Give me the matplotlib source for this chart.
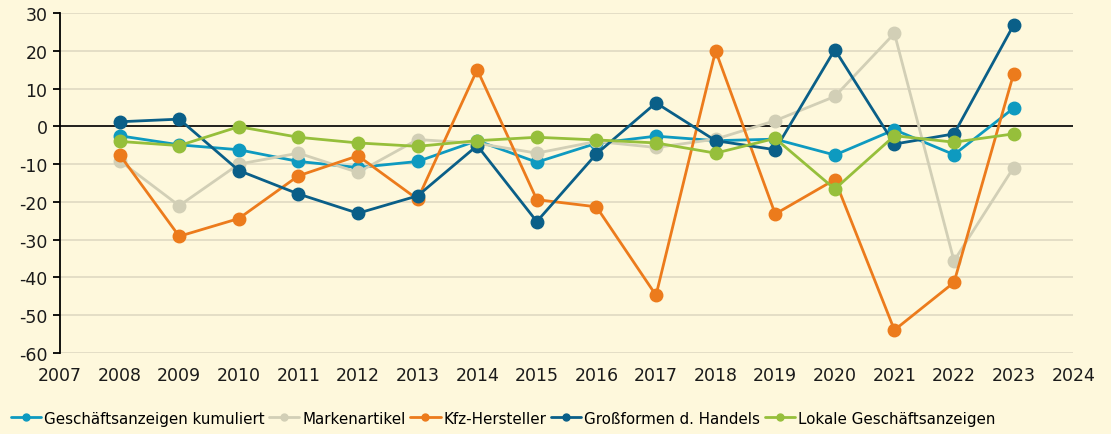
import matplotlib
matplotlib.use("Agg")
import matplotlib.pyplot as plt

years = list(range(2008, 2024))

kumuliert = [-2.5, -4.9, -6.2, -9.3, -10.9, -9.3, -3.8, -9.5, -4.5, -2.6, -3.8, -3.4, -7.6, -0.9, -7.5, 4.8]
marken = [-9.1, -21.0, -10.0, -7.1, -12.2, -3.5, -4.5, -7.1, -4.0, -5.6, -3.4, 1.5, 7.9, 24.6, -35.6, -10.9]
kfz = [-7.5, -29.1, -24.4, -13.1, -7.8, -19.3, 15.0, -19.4, -21.3, -44.7, 20.0, -23.2, -14.1, -53.9, -41.3, 13.9]
grossformen = [1.2, 1.9, -11.7, -17.9, -23.0, -18.4, -5.1, -25.2, -7.3, 6.2, -3.8, -6.2, 20.3, -4.7, -2.0, 26.8]
lokale = [-4.0, -5.1, -0.1, -2.9, -4.4, -5.3, -3.8, -2.9, -3.6, -4.4, -7.1, -3.2, -16.6, -2.5, -4.2, -2.0]

series = [
    ("Geschäftsanzeigen kumuliert", kumuliert, "#0e9ac0"),
    ("Markenartikel", marken, "#d2cfb6"),
    ("Kfz-Hersteller", kfz, "#ec7b1c"),
    ("Großformen d. Handels", grossformen, "#0a5f88"),
    ("Lokale Geschäftsanzeigen", lokale, "#96bf3b"),
]

bg = "#fef8dc"
plt.rcParams["axes.unicode_minus"] = False
plt.rcParams["font.family"] = ["DejaVu Sans"]

fig = plt.figure(figsize=(11.11, 4.35), dpi=100, facecolor=bg)
ax = fig.add_axes([0.054, 0.186, 0.912, 0.782])
ax.set_facecolor(bg)

for label, vals, col in series:
    ax.plot(years, vals, color=col, lw=2.0, marker="o", ms=9, label=label,
            solid_capstyle="round")

ax.axhline(0, color="black", lw=1.2, zorder=1.5)
ax.set_xlim(2007, 2024)
ax.set_ylim(-60, 30)
ax.set_xticks(range(2007, 2025))
ax.set_yticks(range(-60, 31, 10))
ax.grid(axis="y", color="#e4dec6", lw=1.4, zorder=0)
ax.set_axisbelow(True)
for s in ["top", "right", "bottom"]:
    ax.spines[s].set_visible(False)
ax.spines["left"].set_linewidth(1.3)
ax.tick_params(axis="y", length=5, width=1.3, labelsize=12.5, pad=4, labelcolor="#1a1a1a")
ax.tick_params(axis="x", length=0, labelsize=12.5, pad=9, labelcolor="#1a1a1a")

leg = fig.legend(loc="lower left", bbox_to_anchor=(0.0, -0.005), ncol=5, frameon=False,
                 fontsize=10.9, handlelength=2.0, handletextpad=0.2, columnspacing=0.3,
                 borderaxespad=0.3)
for h in leg.legend_handles:
    h.set_markersize(5)
    h.set_linewidth(2)

fig.savefig("out.png", dpi=100, facecolor=bg)
